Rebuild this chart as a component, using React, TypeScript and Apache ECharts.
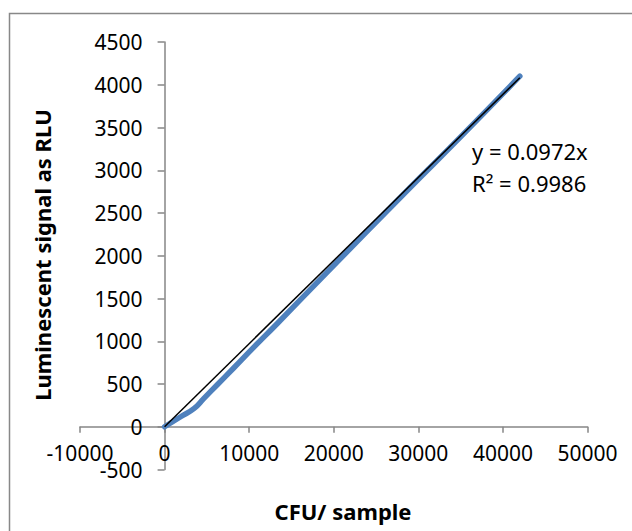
import React, { useEffect, useRef } from "react";
import * as echarts from "echarts";

const seriesX = [0, 1900, 3500, 4650, 6200, 8200, 10500, 13300, 19000, 28600, 35000, 42000];
const seriesY = [0, 117, 215, 332, 488, 690, 925, 1205, 1785, 2755, 3390, 4100];
const trendX = [0, 42000];
const trendY = [0, 4082];
const xTitle = "CFU/ sample";
const yTitle = "Luminescent signal as RLU";
const equationLines = ["y = 0.0972x", "R² = 0.9986"];

const FONT = "'Noto Sans', 'Open Sans', sans-serif";

const X_MIN = -10000;
const X_MAX = 50000;
const Y_MIN = -500;
const Y_MAX = 4500;

export default function App() {
  const ref = useRef<HTMLDivElement>(null);
  useEffect(() => {
    if (!ref.current) return;
    const chart = echarts.init(ref.current, null, { renderer: "svg" });
    const axisColor = "#868686";
    const W = 632;
    const H = 531;
    const gl = 80, gr = 44.5, gt = 42, gb = 61.5;
    const gw = W - gl - gr;
    const gh = H - gt - gb;
    // shift axes so they cross at zero
    const xAxisOffset = -((0 - Y_MIN) / (Y_MAX - Y_MIN)) * gh;
    const yAxisOffset = -((0 - X_MIN) / (X_MAX - X_MIN)) * gw;
    chart.setOption({
      animation: false,
      backgroundColor: "#ffffff",
      grid: { left: gl, right: gr, top: gt, bottom: gb, containLabel: false },
      xAxis: {
        type: "value",
        min: X_MIN,
        max: X_MAX,
        interval: 10000,
        offset: xAxisOffset,
        splitLine: { show: false },
        axisLine: { show: true, onZero: false, lineStyle: { color: axisColor, width: 1.5 } },
        axisTick: { show: true, length: 6, lineStyle: { color: axisColor, width: 1.5 } },
        axisLabel: {
          color: "#000",
          fontFamily: FONT,
          fontSize: 21,
          margin: 16,
          formatter: (v: number) => String(v),
        },
      },
      yAxis: {
        type: "value",
        min: Y_MIN,
        max: Y_MAX,
        interval: 500,
        offset: yAxisOffset,
        splitLine: { show: false },
        axisLine: { show: true, onZero: false, lineStyle: { color: axisColor, width: 1.5 } },
        axisTick: { show: true, length: 7, lineStyle: { color: axisColor, width: 1.5 } },
        axisLabel: {
          color: "#000",
          fontFamily: FONT,
          fontSize: 21,
          margin: 22,
          formatter: (v: number) => String(v),
        },
      },
      graphic: [
        {
          type: "rect",
          shape: { x: 9.5, y: 13.5, width: 700, height: 600 },
          style: { fill: "none", stroke: "#888888", lineWidth: 1.5 },
          silent: true,
        },
        {
          type: "text",
          x: 343,
          y: 511,
          style: {
            text: xTitle,
            font: `bold 22px ${FONT}`,
            fill: "#000",
            align: "center",
            verticalAlign: "middle",
          },
        },
        {
          type: "text",
          x: 42,
          y: 255,
          rotation: Math.PI / 2,
          style: {
            text: yTitle,
            font: `bold 22px ${FONT}`,
            fill: "#000",
            align: "center",
            verticalAlign: "middle",
          },
        },
        {
          type: "text",
          x: 472,
          y: 151,
          style: {
            text: equationLines[0],
            font: `22px ${FONT}`,
            fill: "#000",
            align: "left",
            verticalAlign: "middle",
          },
        },
        {
          type: "text",
          x: 472,
          y: 183,
          style: {
            text: equationLines[1],
            font: `22px ${FONT}`,
            fill: "#000",
            align: "left",
            verticalAlign: "middle",
          },
        },
      ],
      series: [
        {
          type: "line",
          data: seriesX.map((x, i) => [x, seriesY[i]]),
          smooth: 0.5,
          showSymbol: false,
          symbol: "none",
          lineStyle: { color: "#4F81BD", width: 5.5, cap: "round", join: "round" },
          z: 2,
        },
        {
          type: "line",
          data: trendX.map((x, i) => [x, trendY[i]]),
          showSymbol: false,
          symbol: "none",
          lineStyle: { color: "#000000", width: 1.5 },
          z: 3,
        },
      ],
    });
    return () => chart.dispose();
  }, []);
  return (
    <div
      ref={ref}
      style={{ position: "fixed", left: 0, top: 0, width: 632, height: 531, background: "#fff" }}
    />
  );
}
